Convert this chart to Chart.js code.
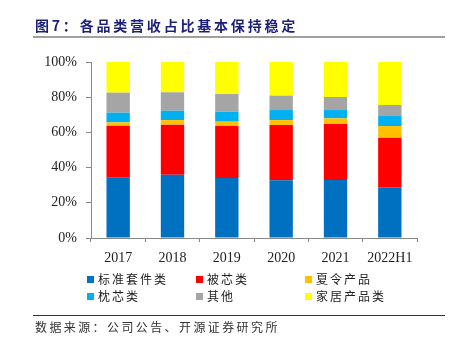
<!DOCTYPE html>
<html>
<head>
<meta charset="utf-8">
<script src="https://cdn.jsdelivr.net/npm/chart.js@4"></script>
<style>
  html, body { margin:0; padding:0; background:#fff; }
  body { width:457px; height:340px; position:relative; overflow:hidden; font-family:"Noto Sans CJK SC", sans-serif; }
  #title { position:absolute; left:35px; top:15px; font-size:14px; font-weight:bold; color:#1B1F7B; letter-spacing:2.8px; line-height:20px; white-space:nowrap; }
  #tline { position:absolute; left:33px; top:36px; width:412px; height:2px; background:#A0A0A0; }
  #fline { position:absolute; left:33px; top:315px; width:412px; height:1px; background:#333; }
  #source { position:absolute; left:35px; top:318px; font-size:12px; color:#333; letter-spacing:2.4px; line-height:18px; white-space:nowrap; }
  #chartwrap { position:absolute; left:0; top:0; width:457px; height:340px; }
  .lg { position:absolute; font-size:12px; color:#222; letter-spacing:2px; line-height:16px; white-space:nowrap; }
  .lg i { position:absolute; width:7px; height:7px; left:-11px; top:5px; }
</style>
</head>
<body>
<div id="chartwrap"><canvas id="c" width="457" height="340"></canvas></div>
<div id="title">图7：各品类营收占比基本保持稳定</div>
<div id="tline"></div>
<div id="legend"></div>
<div id="fline"></div>
<div id="source">数据来源：公司公告、开源证券研究所</div>
<script>
const categories = ["2017", "2018", "2019", "2020", "2021", "2022H1"];
const seriesNames = ["标准套件类", "被芯类", "夏令产品", "枕芯类", "其他", "家居产品类"];
const standardKits = [34.3, 36.0, 34.1, 32.8, 33.0, 28.8];
const quilts       = [29.5, 28.4, 29.5, 31.4, 31.8, 28.2];
const summer       = [1.9, 2.6, 2.5, 2.8, 3.2, 6.6];
const pillows      = [5.5, 5.3, 5.7, 5.7, 4.7, 5.7];
const others       = [11.4, 10.5, 10.0, 8.2, 7.4, 6.3];
const homeGoods    = [17.4, 17.2, 18.2, 19.1, 19.9, 24.4];
const yTicks = [0, 20, 40, 60, 80, 100];

const colors = ["#0070C0", "#FF0000", "#FFC000", "#00B0F0", "#A5A5A5", "#FFFF00"];
const seriesData = [standardKits, quilts, summer, pillows, others, homeGoods];

const datasets = seriesNames.map((n, i) => ({
  label: n,
  data: seriesData[i],
  backgroundColor: colors[i],
  borderWidth: 0,
  categoryPercentage: 1,
  barPercentage: 0.43
}));

new Chart(document.getElementById("c"), {
  type: "bar",
  data: { labels: categories, datasets },
  options: {
    responsive: false,
    animation: false,
    devicePixelRatio: 1,
    layout: { padding: { left: 0, right: 40, top: 62, bottom: 0 } },
    plugins: { legend: { display: false }, tooltip: { enabled: false } },
    scales: {
      x: {
        stacked: true,
        grid: { display: true, drawOnChartArea: false, drawTicks: true, tickLength: 4, color: "#888", offset: true },
        border: { display: true, color: "#888", width: 1 },
        ticks: { color: "#222", font: { family: "Liberation Serif", size: 14 }, padding: 8, maxRotation: 0 },
        afterFit: s => { s.height = 102; }
      },
      y: {
        stacked: true,
        min: 0, max: 100,
        afterBuildTicks: s => { s.ticks = yTicks.map(v => ({ value: v })); },
        grid: { display: true, drawOnChartArea: false, drawTicks: true, tickLength: 5, color: "#888" },
        border: { display: true, color: "#888", width: 1 },
        ticks: { color: "#222", font: { family: "Liberation Serif", size: 14 }, padding: 9, callback: v => v + "%" },
        afterFit: s => { s.width = 91; }
      }
    }
  }
});

// HTML legend built from the series arrays
const legendPos = [[98, 271], [207, 271], [316, 271], [98, 288], [207, 288], [316, 288]];
const lg = document.getElementById("legend");
seriesNames.forEach((n, i) => {
  const d = document.createElement("div");
  d.className = "lg";
  d.style.left = legendPos[i][0] + "px";
  d.style.top = legendPos[i][1] + "px";
  d.innerHTML = '<i style="background:' + colors[i] + '"></i>' + n;
  lg.appendChild(d);
});
</script>
</body>
</html>
